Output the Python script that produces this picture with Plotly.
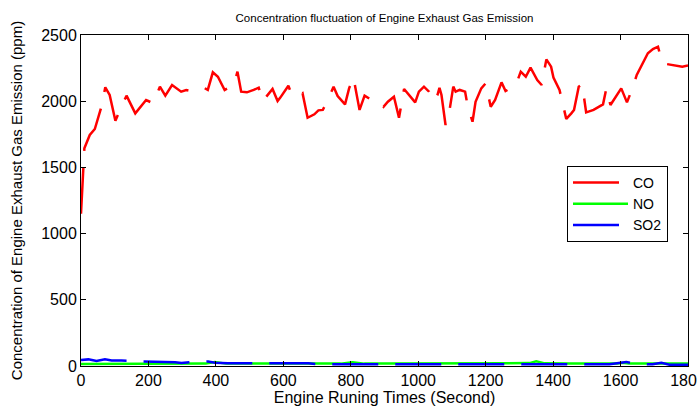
import plotly.graph_objects as go

# ---- data ----
co_t = [0, 10, 26, 41, 62, 72, 85, 102, 116, 135, 161, 193, 214, 234, 250, 270, 297, 312, 327,
        364, 376, 391, 406, 426, 453, 464, 475, 492, 512, 527, 539, 554, 568, 583, 591, 615, 625,
        643, 657, 672, 692, 704, 717, 734, 749, 761, 783, 795, 808, 818, 826, 841, 862, 882, 897,
        910, 928, 943, 958, 991, 1002, 1017, 1032, 1047, 1057, 1063, 1069, 1081, 1093, 1104, 1111,
        1123, 1139, 1146, 1161, 1170, 1187, 1200, 1215, 1228, 1247, 1259, 1289, 1304, 1319, 1333,
        1353, 1366, 1380, 1394, 1401, 1419, 1439, 1454, 1462, 1476, 1486, 1498, 1520, 1548, 1558,
        1570, 1587, 1602, 1619, 1636, 1648, 1671, 1681, 1696, 1711, 1724, 1741, 1783, 1800]
co_v = [1150, 1645, 1745, 1790, 1971, 2105, 2047, 1853, 1934, 2042, 1908, 2009, 1984, 2110, 2042,
        2122, 2072, 2085, 2077, 2102, 2085, 2218, 2185, 2085, 2122, 2223, 2072, 2067, 2085, 2102,
        2001, 2047, 2092, 2001, 2027, 2117, 2047, 2039, 2060, 1875, 1901, 1931, 1934, 2022, 2110,
        2039, 1976, 2097, 2180, 2042, 1934, 2042, 2009, 2001, 1958, 1996, 2034, 1875, 2092, 1991,
        2072, 2110, 2072, 2001, 2047, 2100, 2047, 1820, 1934, 2110, 2072, 2085, 2072, 1971, 1845,
        1996, 2097, 2135, 1958, 2009, 2142, 2077, 2117, 2223, 2185, 2253, 2160, 2122, 2316, 2261,
        2178, 2085, 1866, 1908, 1934, 2110, 2128, 1916, 1934, 1976, 2097, 1971, 2034, 2097, 1991,
        2102, 2198, 2311, 2362, 2394, 2412, 2286, 2278, 2261, 2270]

no_t = [0, 100, 200, 300, 370, 397, 430, 500, 600, 700, 770, 805, 840, 900, 1000, 1100, 1200,
        1300, 1330, 1350, 1375, 1450, 1550, 1590, 1606, 1625, 1700, 1800]
no_v = [15, 17, 18, 18, 18, 31, 18, 18, 18, 18, 18, 28, 18, 18, 18, 18, 18,
        18, 22, 36, 20, 18, 18, 18, 25, 18, 18, 18]

so2_t = [0, 22, 46, 71, 91, 120, 185, 239, 279, 298, 328, 377, 397, 436, 516, 575, 624, 674,
         708, 772, 896, 1000, 1100, 1200, 1300, 1400, 1500, 1567, 1617, 1646, 1695, 1721, 1745,
         1784, 1800]
so2_v = [45, 50, 38, 50, 41, 41, 34, 31, 28, 22, 31, 34, 25, 20, 20, 25, 22, 20,
         13, 13, 13, 13, 13, 13, 13, 13, 13, 13, 31, 13, 13, 25, 10,
         10, 10]

x_ticks = [0, 200, 400, 600, 800, 1000, 1200, 1400, 1600, 1800]
y_ticks = [0, 500, 1000, 1500, 2000, 2500]

FONT = "Liberation Sans, Arial, sans-serif"
DASH = "46px,17px"

fig = go.Figure()
fig.add_trace(go.Scatter(x=co_t, y=co_v, mode="lines", name="CO",
                         line=dict(color="#ff0000", width=2.5, dash=DASH)))
fig.add_trace(go.Scatter(x=no_t, y=no_v, mode="lines", name="NO",
                         line=dict(color="#00ff00", width=2.5)))
fig.add_trace(go.Scatter(x=so2_t, y=so2_v, mode="lines", name="SO2",
                         line=dict(color="#0000ff", width=2.5, dash=DASH)))

axis_common = dict(showline=True, linecolor="black", linewidth=1, mirror="allticks",
                   ticks="inside", ticklen=5, tickcolor="black", showgrid=False,
                   zeroline=False, automargin=False, ticklabeloverflow="allow",
                   tickfont=dict(family=FONT, size=16, color="black"))

fig.update_layout(
    width=697, height=407,
    margin=dict(l=81, r=9, t=35, b=41, autoexpand=False),
    paper_bgcolor="white", plot_bgcolor="white",
    font=dict(family=FONT, color="black"),
    title=dict(text="Concentration fluctuation of Engine Exhaust Gas Emission",
               x=0.5, xref="paper", xanchor="center",
               y=1 - 18 / 407, yanchor="middle",
               font=dict(family=FONT, size=11.5, color="black")),
    xaxis=dict(range=[0, 1800], tickvals=x_ticks,
               title=dict(text="Engine Runing Times (Second)", standoff=2,
                          font=dict(family=FONT, size=16, color="black")),
               **axis_common),
    yaxis=dict(range=[0, 2500], tickvals=y_ticks,
               title=dict(text="Concentration of Engine Exhaust Gas Emission (ppm)", standoff=14,
                          font=dict(family=FONT, size=15, color="black")),
               **axis_common),
    legend=dict(x=(567 - 81) / 607, y=(366 - 166) / 331, xanchor="left", yanchor="top",
                bgcolor="white", bordercolor="black", borderwidth=1,
                font=dict(family=FONT, size=14, color="black"),
                itemwidth=55, tracegroupgap=0),
    showlegend=True,
)

fig.write_html("out.html", config={"displayModeBar": False},
               post_script="document.body.style.margin='0';")
